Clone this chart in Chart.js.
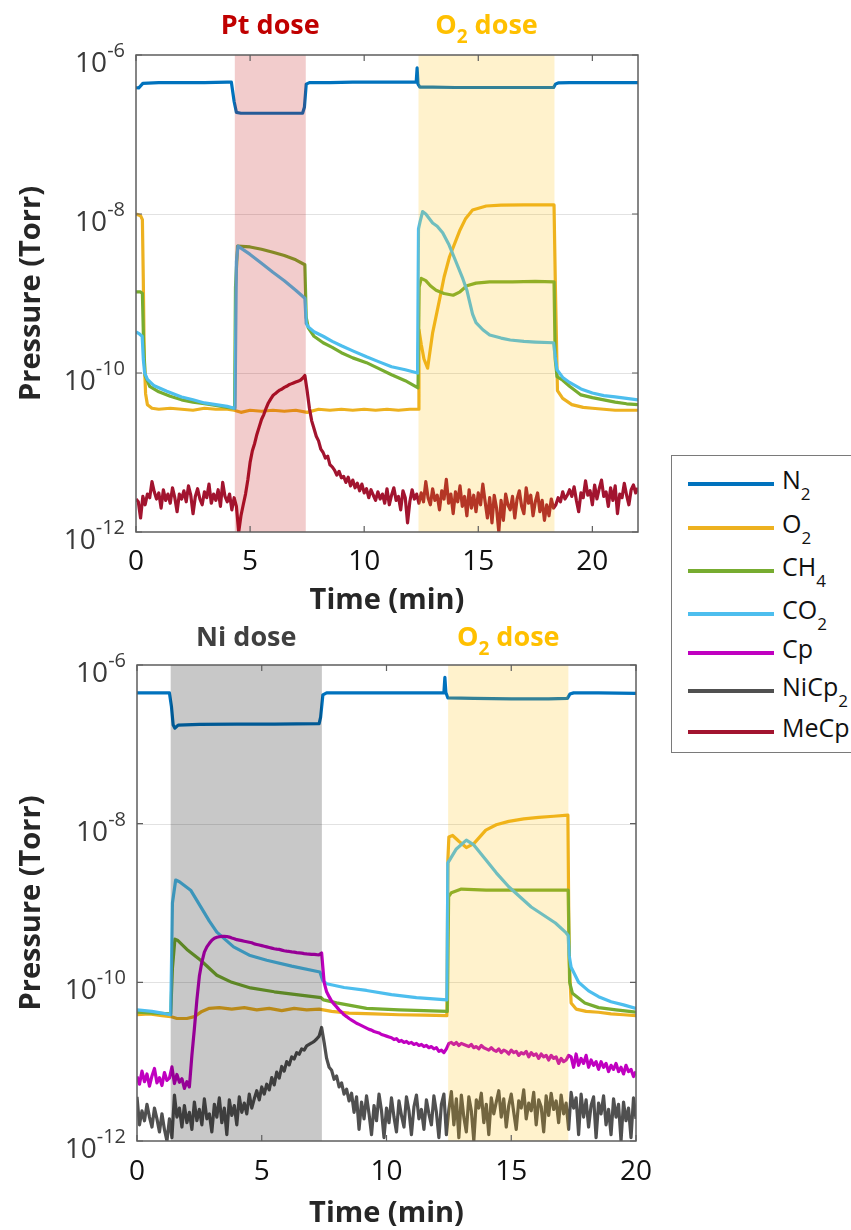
<!DOCTYPE html>
<html>
<head>
<meta charset="utf-8">
<script src="https://cdn.jsdelivr.net/npm/chart.js@4.4.1/dist/chart.umd.min.js"></script>
<style>
  html, body { margin: 0; padding: 0; background: #fff; width: 851px; height: 1230px; overflow: hidden; }
  #c1 { position: absolute; left: 0; top: 0; }
  #c2 { position: absolute; left: 0; top: 615px; }
  #legend { position: absolute; left: 671px; top: 455px; width: 220px; height: 296px;
            border: 1.5px solid #7a7a7a; background: #fff; font-family: 'Open Sans', sans-serif; }
  .lg-line { position: absolute; left: 16px; width: 86px; height: 3.5px; }
  .lg-text { position: absolute; left: 110px; font-size: 25px; line-height: 25px; color: #111; white-space: nowrap; }
  .lg-sub { font-size: 17px; position: relative; top: 11px; }
</style>
</head>
<body>
<canvas id="c1" width="660" height="615"></canvas>
<canvas id="c2" width="660" height="615"></canvas>
<div id="legend"></div>
<script>
// ---------- series names and colours ----------
const seriesNames  = ['N_{2}', 'O_{2}', 'CH_{4}', 'CO_{2}', 'Cp', 'NiCp_{2}', 'MeCp'];
const seriesColors = ['#0072BD', '#EDB120', '#77AC30', '#4DBEEE', '#C000C0', '#505050', '#A2142F'];

// ---------- axis ticks ----------
const xTickValues = [0, 5, 10, 15, 20];
const yTickValues = [1e-6, 1e-8, 1e-10, 1e-12];
const yGridValues = [1e-8, 1e-10];

// ---------- top panel: Pt dose / O2 dose ----------
const topDoseNames = ['Pt dose', 'O_{2} dose'];
const topDoseStart = [4.33, 12.38];
const topDoseEnd   = [7.44, 18.34];

const topN2Time = [0, 0.12, 0.3, 1, 2, 3, 4, 4.18, 4.3, 4.4, 4.6, 5.5, 6.5, 7.3, 7.38, 7.46, 7.6, 8.5, 9.5, 10.5, 11.5, 12.28, 12.32, 12.36, 12.44, 13, 14, 15, 16, 17, 18.3, 18.38, 18.5, 19, 20, 21, 22];
const topN2 = [3.9e-7, 3.85e-7, 4.4e-7, 4.5e-7, 4.5e-7, 4.5e-7, 4.55e-7, 4.55e-7, 2.6e-7, 1.9e-7, 1.85e-7, 1.85e-7, 1.85e-7, 1.85e-7, 2.2e-7, 4.3e-7, 4.5e-7, 4.5e-7, 4.55e-7, 4.55e-7, 4.55e-7, 4.55e-7, 6.9e-7, 4.3e-7, 3.95e-7, 3.95e-7, 3.9e-7, 3.9e-7, 3.9e-7, 3.9e-7, 3.9e-7, 4.3e-7, 4.45e-7, 4.5e-7, 4.5e-7, 4.5e-7, 4.5e-7];

const topO2Time = [0, 0.2, 0.28, 0.32, 0.36, 0.42, 0.5, 0.7, 1, 1.5, 2, 2.5, 3, 3.5, 4, 4.3, 4.6, 5, 5.5, 6, 6.5, 7, 7.5, 8, 8.5, 9, 9.5, 10, 10.5, 11, 11.5, 12, 12.36, 12.4, 12.5, 12.62, 12.78, 13.0, 13.3, 13.5, 13.74, 14.2, 14.45, 14.75, 15.35, 16, 17, 18, 18.32, 18.38, 18.47, 18.7, 19.1, 19.6, 20, 20.5, 21, 21.5, 22];
const topO2 = [1.0e-8, 9.5e-9, 8.5e-9, 1.5e-9, 1.6e-10, 5.5e-11, 4.0e-11, 3.6e-11, 3.5e-11, 3.6e-11, 3.5e-11, 3.4e-11, 3.6e-11, 3.5e-11, 3.5e-11, 3.4e-11, 3.2e-11, 3.4e-11, 3.3e-11, 3.4e-11, 3.3e-11, 3.4e-11, 3.2e-11, 3.5e-11, 3.4e-11, 3.5e-11, 3.4e-11, 3.5e-11, 3.4e-11, 3.5e-11, 3.4e-11, 3.5e-11, 3.5e-11, 3.5e-10, 2.3e-10, 1.5e-10, 1.15e-10, 3.2e-10, 8.3e-10, 1.6e-9, 2.9e-9, 6.3e-9, 8.8e-9, 1.12e-8, 1.26e-8, 1.29e-8, 1.3e-8, 1.3e-8, 1.3e-8, 1.2e-9, 6.0e-11, 4.8e-11, 4.0e-11, 3.7e-11, 3.6e-11, 3.5e-11, 3.4e-11, 3.4e-11, 3.4e-11];

const topCH4Time = [0, 0.2, 0.28, 0.33, 0.4, 0.6, 1, 1.5, 2, 2.5, 3, 3.5, 4, 4.32, 4.36, 4.45, 5, 5.5, 6, 6.5, 7, 7.4, 7.46, 7.55, 7.8, 8.2, 8.6, 9, 9.5, 10.1, 10.6, 11.2, 11.8, 12.36, 12.41, 12.5, 12.7, 12.9, 13.15, 13.5, 13.9, 14.2, 14.5, 14.9, 15.5, 16.5, 17.5, 18.32, 18.37, 18.45, 18.7, 19, 19.5, 20, 20.5, 21, 21.5, 22];
const topCH4 = [1.05e-9, 1.05e-9, 1.0e-9, 2.5e-10, 9.3e-11, 6.8e-11, 5.8e-11, 5.1e-11, 4.6e-11, 4.3e-11, 4.1e-11, 3.9e-11, 3.7e-11, 3.6e-11, 1.2e-9, 3.95e-9, 3.85e-9, 3.6e-9, 3.3e-9, 3.0e-9, 2.65e-9, 2.3e-9, 5.0e-10, 3.7e-10, 2.9e-10, 2.4e-10, 2.1e-10, 1.8e-10, 1.55e-10, 1.35e-10, 1.15e-10, 9.5e-11, 8.0e-11, 6.5e-11, 1.2e-9, 1.55e-9, 1.45e-9, 1.25e-9, 1.1e-9, 1.0e-9, 9.5e-10, 1.05e-9, 1.25e-9, 1.35e-9, 1.4e-9, 1.4e-9, 1.42e-9, 1.4e-9, 1.5e-10, 9.0e-11, 8.1e-11, 6.8e-11, 5.3e-11, 4.9e-11, 4.6e-11, 4.3e-11, 4.1e-11, 4.0e-11];

const topCO2Time = [0, 0.15, 0.27, 0.32, 0.38, 0.5, 0.8, 1.35, 2, 2.5, 3, 3.5, 4, 4.3, 4.34, 4.4, 4.47, 5, 5.5, 6, 6.5, 7, 7.4, 7.46, 7.55, 7.8, 8.2, 8.6, 9, 9.5, 10.1, 10.6, 11.2, 11.8, 12.34, 12.38, 12.45, 12.56, 12.7, 13, 13.2, 13.44, 13.7, 14, 14.3, 14.5, 14.6, 14.75, 14.9, 15.2, 15.5, 16, 16.4, 17, 17.5, 18.3, 18.37, 18.45, 18.7, 19, 19.5, 20, 20.5, 21, 21.5, 22];
const topCO2 = [3.3e-10, 3.1e-10, 2.9e-10, 1.5e-10, 1.0e-10, 8.3e-11, 6.9e-11, 5.9e-11, 5.0e-11, 4.6e-11, 4.2e-11, 4.0e-11, 3.8e-11, 3.6e-11, 3.6e-11, 2.5e-9, 3.95e-9, 3.1e-9, 2.4e-9, 1.85e-9, 1.45e-9, 1.1e-9, 8.7e-10, 4.2e-10, 3.8e-10, 3.3e-10, 2.9e-10, 2.5e-10, 2.2e-10, 1.9e-10, 1.6e-10, 1.4e-10, 1.2e-10, 1.1e-10, 1.0e-10, 6.5e-9, 8.0e-9, 1.07e-8, 1.0e-8, 7.7e-9, 7.0e-9, 5.8e-9, 4.2e-9, 2.6e-9, 1.6e-9, 1.1e-9, 8.3e-10, 5.5e-10, 4.3e-10, 3.5e-10, 3.0e-10, 2.75e-10, 2.6e-10, 2.5e-10, 2.45e-10, 2.4e-10, 1.6e-10, 1.1e-10, 8.8e-11, 7.6e-11, 6.3e-11, 5.6e-11, 5.2e-11, 5.0e-11, 4.8e-11, 4.6e-11];

// MeCp, sampled every 0.1 min from t = 0
const topMeCpStart = 0, topMeCpStep = 0.1;
const topMeCp = [
  2.6e-12, 2.4e-12, 1.5e-12, 2.8e-12, 2.2e-12, 3.0e-12, 2.7e-12, 4.3e-12, 3.2e-12, 2.6e-12,
  3.1e-12, 2.0e-12, 3.4e-12, 2.5e-12, 3.0e-12, 2.3e-12, 3.6e-12, 2.7e-12, 1.8e-12, 3.0e-12,
  2.6e-12, 3.3e-12, 2.4e-12, 3.8e-12, 2.9e-12, 1.7e-12, 2.8e-12, 3.5e-12, 2.6e-12, 2.2e-12,
  3.2e-12, 2.7e-12, 4.0e-12, 2.3e-12, 3.0e-12, 2.5e-12, 3.4e-12, 2.1e-12, 4.2e-12, 2.8e-12,
  2.4e-12, 3.0e-12, 1.9e-12, 2.7e-12, 2.1e-12, 1.0e-12, 1.6e-12, 2.2e-12, 3.0e-12, 4.5e-12,
  7.5e-12, 1.05e-11, 1.3e-11, 1.7e-11, 2.1e-11, 2.6e-11, 3.0e-11, 3.6e-11, 4.2e-11, 4.7e-11,
  5.2e-11, 5.5e-11, 5.8e-11, 6.1e-11, 6.3e-11, 6.6e-11, 6.8e-11, 7.1e-11, 7.3e-11, 7.5e-11,
  7.7e-11, 7.9e-11, 8.1e-11, 8.6e-11, 9.3e-11, 6.0e-11, 3.6e-11, 2.5e-11, 2.0e-11, 1.6e-11,
  1.4e-11, 1.1e-11, 1.0e-11, 8.5e-12, 9.0e-12, 7.0e-12, 6.6e-12, 6.0e-12, 5.2e-12, 5.8e-12,
  4.8e-12, 5.0e-12, 4.2e-12, 4.9e-12, 3.8e-12, 4.5e-12, 3.6e-12, 4.1e-12, 3.3e-12, 4.0e-12,
  3.1e-12, 3.5e-12, 2.7e-12, 3.4e-12, 2.9e-12, 2.5e-12, 3.2e-12, 2.6e-12, 3.0e-12, 2.3e-12,
  3.5e-12, 2.2e-12, 2.9e-12, 3.6e-12, 2.5e-12, 2.8e-12, 1.9e-12, 3.3e-12, 2.7e-12, 1.3e-12,
  2.4e-12, 3.4e-12, 2.6e-12, 3.0e-12, 2.3e-12, 3.1e-12, 2.4e-12, 4.3e-12, 2.7e-12, 2.2e-12,
  3.5e-12, 2.5e-12, 2.9e-12, 1.9e-12, 3.3e-12, 2.6e-12, 4.6e-12, 2.3e-12, 3.0e-12, 1.7e-12,
  3.2e-12, 2.4e-12, 3.8e-12, 2.1e-12, 2.8e-12, 1.6e-12, 3.4e-12, 2.0e-12, 2.9e-12, 1.8e-12,
  3.1e-12, 2.2e-12, 4.0e-12, 2.4e-12, 1.5e-12, 2.7e-12, 1.3e-12, 2.9e-12, 2.0e-12, 1.0e-12,
  2.5e-12, 1.4e-12, 3.0e-12, 2.2e-12, 1.9e-12, 2.8e-12, 1.5e-12, 2.6e-12, 3.3e-12, 2.1e-12,
  1.7e-12, 3.6e-12, 2.3e-12, 2.9e-12, 1.6e-12, 2.4e-12, 3.1e-12, 1.8e-12, 2.5e-12, 1.4e-12,
  2.2e-12, 1.6e-12, 2.6e-12, 2.0e-12, 2.2e-12, 2.7e-12, 2.4e-12, 3.2e-12, 2.6e-12, 2.9e-12,
  3.4e-12, 2.8e-12, 3.7e-12, 2.5e-12, 1.8e-12, 3.1e-12, 2.7e-12, 4.4e-12, 2.9e-12, 3.3e-12,
  2.2e-12, 3.9e-12, 2.6e-12, 3.5e-12, 4.5e-12, 2.8e-12, 3.2e-12, 2.1e-12, 3.6e-12, 2.5e-12,
  3.8e-12, 1.7e-12, 3.0e-12, 2.7e-12, 4.1e-12, 2.9e-12, 2.2e-12, 3.4e-12, 3.9e-12, 3.1e-12,
  3.6e-12
];

// ---------- bottom panel: Ni dose / O2 dose ----------
const botDoseNames = ['Ni dose', 'O_{2} dose'];
const botDoseStart = [1.35, 12.47];
const botDoseEnd   = [7.41, 17.29];

const botN2Time = [0, 1.3, 1.38, 1.45, 1.52, 1.65, 2.5, 4, 5.5, 7.3, 7.36, 7.45, 7.6, 9, 10.5, 12.3, 12.34, 12.38, 12.46, 13.5, 15, 16.5, 17.25, 17.35, 17.5, 18.5, 20];
const botN2 = [4.45e-7, 4.45e-7, 3.0e-7, 1.75e-7, 1.6e-7, 1.75e-7, 1.78e-7, 1.8e-7, 1.8e-7, 1.82e-7, 2.2e-7, 4.2e-7, 4.45e-7, 4.45e-7, 4.45e-7, 4.45e-7, 7.0e-7, 4.5e-7, 3.85e-7, 3.8e-7, 3.75e-7, 3.75e-7, 3.8e-7, 4.3e-7, 4.45e-7, 4.45e-7, 4.4e-7];

const botO2Time = [0, 0.5, 1, 1.35, 1.6, 2, 2.3, 2.6, 2.9, 3.3, 3.8, 4.3, 4.8, 5.3, 5.8, 6.3, 6.8, 7.3, 7.8, 8.5, 9.5, 10.5, 11.5, 12.42, 12.46, 12.5, 12.65, 12.9, 13.2, 13.5, 13.98, 14.4, 14.9, 15.5, 16.1, 16.7, 17.27, 17.32, 17.4, 17.6, 18, 18.5, 19, 19.5, 20];
const botO2 = [3.9e-11, 4.0e-11, 3.8e-11, 3.7e-11, 3.5e-11, 3.5e-11, 3.7e-11, 4.3e-11, 4.7e-11, 4.8e-11, 4.6e-11, 4.8e-11, 4.5e-11, 4.7e-11, 4.4e-11, 4.7e-11, 4.5e-11, 4.6e-11, 4.3e-11, 4.1e-11, 4.0e-11, 3.9e-11, 3.85e-11, 3.8e-11, 3.5e-9, 6.8e-9, 7.1e-9, 6.0e-9, 5.0e-9, 5.6e-9, 8.3e-9, 9.7e-9, 1.07e-8, 1.15e-8, 1.2e-8, 1.24e-8, 1.28e-8, 2.0e-10, 5.5e-11, 4.6e-11, 4.3e-11, 4.2e-11, 4.0e-11, 3.9e-11, 3.8e-11];

const botCH4Time = [0, 0.7, 1.35, 1.42, 1.52, 1.62, 2.0, 2.55, 3.2, 3.8, 4.55, 5.5, 6.55, 7.38, 7.48, 8.0, 9.2, 10.5, 11.5, 12.44, 12.49, 12.6, 13.0, 14, 15, 16, 17.28, 17.34, 17.45, 17.95, 18.5, 19.2, 20];
const botCH4 = [4.2e-11, 4.1e-11, 4.0e-11, 1.5e-10, 3.5e-10, 3.4e-10, 2.6e-10, 1.9e-10, 1.23e-10, 1.0e-10, 8.5e-11, 7.6e-11, 6.9e-11, 6.4e-11, 6.0e-11, 5.5e-11, 4.7e-11, 4.5e-11, 4.4e-11, 4.3e-11, 1.2e-9, 1.35e-9, 1.5e-9, 1.45e-9, 1.45e-9, 1.45e-9, 1.45e-9, 1.0e-10, 7.3e-11, 5.5e-11, 4.8e-11, 4.5e-11, 4.2e-11];

const botCO2Time = [0, 0.6, 1.0, 1.35, 1.42, 1.55, 1.7, 2.15, 2.55, 2.9, 3.2, 3.87, 4.5, 5.2, 6.2, 7.33, 7.45, 7.6, 8.3, 9.2, 10.2, 11.2, 12.42, 12.46, 12.8, 13.2, 13.5, 13.98, 14.4, 14.9, 15.8, 16.77, 17.17, 17.28, 17.32, 17.4, 17.7, 18.1, 18.5, 19, 19.5, 20];
const botCO2 = [4.5e-11, 4.3e-11, 4.1e-11, 3.9e-11, 1.0e-9, 1.95e-9, 1.85e-9, 1.45e-9, 9.0e-10, 5.9e-10, 4.3e-10, 2.8e-10, 2.2e-10, 1.9e-10, 1.6e-10, 1.35e-10, 1.05e-10, 9.6e-11, 8.6e-11, 7.9e-11, 7.0e-11, 6.4e-11, 6.0e-11, 3.2e-9, 4.8e-9, 6.2e-9, 5.4e-9, 3.5e-9, 2.4e-9, 1.6e-9, 8.9e-10, 5.6e-10, 4.3e-10, 3.9e-10, 2.2e-10, 1.55e-10, 1.0e-10, 7.8e-11, 6.6e-11, 5.7e-11, 5.2e-11, 4.7e-11];

// Cp and NiCp2, sampled every 0.1 min from t = 0
const botSampleStart = 0, botSampleStep = 0.1;
const botCp = [
  6.5e-12, 5.2e-12, 7.6e-12, 5.6e-12, 7.0e-12, 4.9e-12, 6.6e-12, 8.2e-12, 5.4e-12, 6.3e-12,
  5.0e-12, 7.3e-12, 5.8e-12, 6.2e-12, 8.6e-12, 5.3e-12, 6.9e-12, 5.5e-12, 6.1e-12, 4.6e-12,
  5.6e-12, 4.8e-12, 1.2e-11, 2.6e-11, 6.0e-11, 1.2e-10, 1.8e-10, 2.4e-10, 2.8e-10, 3.1e-10,
  3.4e-10, 3.6e-10, 3.7e-10, 3.75e-10, 3.8e-10, 3.8e-10, 3.78e-10, 3.72e-10, 3.62e-10, 3.55e-10,
  3.45e-10, 3.4e-10, 3.35e-10, 3.3e-10, 3.25e-10, 3.2e-10, 3.15e-10, 3.05e-10, 3.0e-10, 2.95e-10,
  2.9e-10, 2.85e-10, 2.8e-10, 2.75e-10, 2.7e-10, 2.65e-10, 2.62e-10, 2.6e-10, 2.55e-10, 2.5e-10,
  2.47e-10, 2.45e-10, 2.42e-10, 2.4e-10, 2.37e-10, 2.35e-10, 2.33e-10, 2.3e-10, 2.28e-10, 2.27e-10,
  2.25e-10, 2.25e-10, 2.23e-10, 2.22e-10, 2.35e-10, 1.0e-10, 7.6e-11, 6.6e-11, 5.8e-11, 5.3e-11,
  4.9e-11, 4.5e-11, 4.2e-11, 3.9e-11, 3.7e-11, 3.5e-11, 3.35e-11, 3.2e-11, 3.05e-11, 2.95e-11,
  2.85e-11, 2.75e-11, 2.65e-11, 2.55e-11, 2.5e-11, 2.4e-11, 2.35e-11, 2.3e-11, 2.2e-11, 2.15e-11,
  2.1e-11, 2.05e-11, 2.0e-11, 1.9e-11, 1.95e-11, 1.8e-11, 1.85e-11, 1.75e-11, 1.8e-11, 1.7e-11,
  1.75e-11, 1.65e-11, 1.7e-11, 1.6e-11, 1.65e-11, 1.55e-11, 1.6e-11, 1.5e-11, 1.55e-11, 1.45e-11,
  1.5e-11, 1.35e-11, 1.4e-11, 1.3e-11, 1.45e-11, 1.7e-11, 1.75e-11, 1.65e-11, 1.75e-11, 1.6e-11,
  1.7e-11, 1.65e-11, 1.6e-11, 1.55e-11, 1.65e-11, 1.5e-11, 1.55e-11, 1.45e-11, 1.6e-11, 1.5e-11,
  1.45e-11, 1.4e-11, 1.5e-11, 1.4e-11, 1.35e-11, 1.45e-11, 1.3e-11, 1.4e-11, 1.35e-11, 1.25e-11,
  1.4e-11, 1.3e-11, 1.35e-11, 1.2e-11, 1.3e-11, 1.25e-11, 1.35e-11, 1.15e-11, 1.3e-11, 1.2e-11,
  1.25e-11, 1.1e-11, 1.25e-11, 1.15e-11, 1.2e-11, 1.05e-11, 1.2e-11, 1.1e-11, 1.15e-11, 9.5e-12,
  1.1e-11, 1.0e-11, 1.05e-11, 1.2e-11, 1.15e-11, 8.5e-12, 1.25e-11, 9.0e-12, 1.1e-11, 9.5e-12,
  1.2e-11, 8.5e-12, 1.05e-11, 9.0e-12, 1.0e-11, 8.0e-12, 1.0e-11, 8.5e-12, 9.5e-12, 7.5e-12,
  9.0e-12, 8.0e-12, 9.5e-12, 7.5e-12, 8.5e-12, 7.0e-12, 9.0e-12, 7.5e-12, 8.0e-12, 6.5e-12,
  7.5e-12
];
const botNiCp2 = [
  3.6e-12, 1.6e-12, 2.4e-12, 1.8e-12, 2.9e-12, 2.0e-12, 1.5e-12, 2.6e-12, 1.9e-12, 1.3e-12,
  2.2e-12, 1.4e-12, 1.0e-12, 1.9e-12, 1.1e-12, 3.8e-12, 2.0e-12, 2.6e-12, 1.5e-12, 2.8e-12,
  1.7e-12, 2.3e-12, 1.4e-12, 3.1e-12, 1.8e-12, 2.5e-12, 1.6e-12, 3.4e-12, 1.9e-12, 2.2e-12,
  1.3e-12, 2.9e-12, 2.0e-12, 3.5e-12, 1.7e-12, 2.6e-12, 1.2e-12, 3.3e-12, 2.1e-12, 2.8e-12,
  1.6e-12, 3.6e-12, 2.3e-12, 3.0e-12, 2.2e-12, 3.9e-12, 2.6e-12, 3.4e-12, 4.3e-12, 3.3e-12,
  4.8e-12, 3.9e-12, 5.2e-12, 4.4e-12, 6.3e-12, 5.1e-12, 7.4e-12, 6.2e-12, 8.7e-12, 7.6e-12,
  1.0e-11, 9.1e-12, 1.15e-11, 1.08e-11, 1.3e-11, 1.24e-11, 1.45e-11, 1.4e-11, 1.58e-11, 1.65e-11,
  1.72e-11, 1.8e-11, 1.93e-11, 2.1e-11, 2.7e-11, 1.75e-11, 1.1e-11, 8.5e-12, 7.8e-12, 6.0e-12,
  6.6e-12, 4.8e-12, 5.4e-12, 3.9e-12, 4.5e-12, 3.2e-12, 4.0e-12, 2.3e-12, 3.6e-12, 1.4e-12,
  3.1e-12, 1.9e-12, 3.7e-12, 2.2e-12, 1.2e-12, 2.8e-12, 1.8e-12, 3.9e-12, 2.4e-12, 1.1e-12,
  2.6e-12, 1.7e-12, 3.5e-12, 2.0e-12, 1.3e-12, 3.2e-12, 2.1e-12, 1.5e-12, 3.6e-12, 2.4e-12,
  1.2e-12, 2.7e-12, 3.8e-12, 1.9e-12, 2.5e-12, 1.4e-12, 3.3e-12, 2.2e-12, 1.6e-12, 3.7e-12,
  2.3e-12, 1.1e-12, 2.9e-12, 3.9e-12, 1.2e-12, 2.5e-12, 4.2e-12, 1.6e-12, 3.4e-12, 1.1e-12,
  3.8e-12, 2.0e-12, 1.3e-12, 3.6e-12, 2.4e-12, 1.0e-12, 3.3e-12, 2.6e-12, 4.0e-12, 1.7e-12,
  2.9e-12, 1.2e-12, 3.5e-12, 2.2e-12, 3.1e-12, 4.3e-12, 2.0e-12, 3.4e-12, 1.5e-12, 2.8e-12,
  3.9e-12, 2.3e-12, 1.4e-12, 3.2e-12, 2.6e-12, 4.4e-12, 1.9e-12, 3.0e-12, 2.4e-12, 4.1e-12,
  1.6e-12, 3.3e-12, 2.7e-12, 1.3e-12, 3.7e-12, 2.1e-12, 4.0e-12, 2.5e-12, 3.2e-12, 1.7e-12,
  3.8e-12, 2.2e-12, 3.0e-12, 1.4e-12, 4.1e-12, 2.6e-12, 3.5e-12, 1.2e-12, 3.9e-12, 2.0e-12,
  3.3e-12, 1.5e-12, 2.8e-12, 3.6e-12, 1.1e-12, 3.0e-12, 2.2e-12, 3.7e-12, 1.6e-12, 2.5e-12,
  1.2e-12, 3.4e-12, 2.0e-12, 2.9e-12, 1.0e-12, 3.1e-12, 1.8e-12, 2.6e-12, 1.1e-12, 3.5e-12,
  1.9e-12
];

// ---------- helpers ----------
const FONT = "'Open Sans', 'Noto Sans', sans-serif";

function pairs(times, values) {
  return values.map((v, i) => ({ x: times[i], y: v }));
}
function sampled(start, step, values) {
  return values.map((v, i) => ({ x: +(start + i * step).toFixed(3), y: v }));
}

// Split "O_{2} dose" / "10^{-8}" into plain, subscript and superscript runs
function richSegments(s) {
  const out = [];
  const re = /([_^])\{([^}]*)\}/g;
  let last = 0, m;
  while ((m = re.exec(s))) {
    if (m.index > last) out.push({ text: s.slice(last, m.index), mode: 'n' });
    out.push({ text: m[2], mode: m[1] === '_' ? 'sub' : 'sup' });
    last = re.lastIndex;
  }
  if (last < s.length) out.push({ text: s.slice(last), mode: 'n' });
  return out;
}

function drawRich(ctx, s, x, y, o) {
  const segs = richSegments(s);
  const fontFor = seg => `${o.weight || 'normal'} ${seg.mode === 'n' ? o.size : Math.round(o.size * o.scriptScale)}px ${FONT}`;
  let total = 0;
  segs.forEach(seg => { ctx.font = fontFor(seg); seg.w = ctx.measureText(seg.text).width; total += seg.w; });
  let cx = o.align === 'center' ? x - total / 2 : o.align === 'right' ? x - total : x;
  ctx.fillStyle = o.color;
  ctx.textAlign = 'left';
  ctx.textBaseline = 'alphabetic';
  segs.forEach(seg => {
    ctx.font = fontFor(seg);
    const dy = seg.mode === 'sub' ? o.subShift : seg.mode === 'sup' ? -o.supShift : 0;
    ctx.fillText(seg.text, cx, y + dy);
    cx += seg.w;
  });
}

// Frame, inward ticks, grid, dose bands and all panel text
const panelDecor = {
  id: 'panelDecor',
  beforeDatasetsDraw(chart, args, o) {
    const { ctx, chartArea: a, scales: { y } } = chart;
    ctx.save();
    ctx.strokeStyle = '#e2e2e2';
    ctx.lineWidth = 1.2;
    yGridValues.forEach(v => {
      const py = Math.round(y.getPixelForValue(v)) + 0.5;
      ctx.beginPath(); ctx.moveTo(a.left, py); ctx.lineTo(a.right, py); ctx.stroke();
    });
    ctx.restore();
  },
  afterDatasetsDraw(chart, args, o) {
    const { ctx, chartArea: a, scales: { x, y } } = chart;
    ctx.save();
    // translucent dose bands laid over the traces
    o.doseStart.forEach((t0, i) => {
      const x0 = x.getPixelForValue(t0), x1 = x.getPixelForValue(o.doseEnd[i]);
      ctx.fillStyle = o.doseFill[i];
      ctx.fillRect(x0, a.top, x1 - x0, a.bottom - a.top);
    });
    // box
    ctx.strokeStyle = '#5e5e5e';
    ctx.lineWidth = 1.5;
    ctx.strokeRect(a.left, a.top, a.right - a.left, a.bottom - a.top);
    // inward tick marks
    ctx.lineWidth = 1.2;
    xTickValues.forEach(v => {
      const px = x.getPixelForValue(v);
      ctx.beginPath();
      ctx.moveTo(px, a.bottom); ctx.lineTo(px, a.bottom - 6);
      ctx.moveTo(px, a.top); ctx.lineTo(px, a.top + 6);
      ctx.stroke();
    });
    yTickValues.forEach(v => {
      const py = y.getPixelForValue(v);
      ctx.beginPath();
      ctx.moveTo(a.left, py); ctx.lineTo(a.left + 6, py);
      ctx.moveTo(a.right, py); ctx.lineTo(a.right - 6, py);
      ctx.stroke();
    });
    // x tick labels
    ctx.font = `28px ${FONT}`;
    ctx.fillStyle = '#111';
    ctx.textAlign = 'center';
    ctx.textBaseline = 'alphabetic';
    xTickValues.forEach(v => ctx.fillText(String(v), x.getPixelForValue(v), a.bottom + o.xTickDrop));
    // y tick labels 10^n
    yTickValues.forEach(v => {
      const py = y.getPixelForValue(v);
      const label = '10^{' + Math.round(Math.log10(v)) + '}';
      drawRich(ctx, label, a.left - 11, py + 17, { size: 28, color: '#3a3a3a', align: 'right', scriptScale: 0.72, supShift: 15, subShift: 0 });
    });
    // axis titles
    ctx.font = `bold 29px ${FONT}`;
    ctx.fillStyle = '#262626';
    ctx.textAlign = 'center';
    ctx.fillText('Time (min)', (a.left + a.right) / 2, a.bottom + o.xTitleDrop);
    ctx.save();
    ctx.translate(40, (a.top + a.bottom) / 2);
    ctx.rotate(-Math.PI / 2);
    ctx.fillText('Pressure (Torr)', 0, 0);
    ctx.restore();
    // dose titles centred over their bands
    o.doseNames.forEach((name, i) => {
      const cx = (x.getPixelForValue(o.doseStart[i]) + x.getPixelForValue(o.doseEnd[i])) / 2;
      drawRich(ctx, name, cx, a.top - o.titleRise, { size: 27, weight: 'bold', color: o.doseText[i], align: 'center', scriptScale: 0.72, subShift: 9, supShift: 0 });
    });
    ctx.restore();
  }
};

function makePanel(canvas, series, layout, decor) {
  const n = series.length;
  return new Chart(canvas, {
    type: 'line',
    data: {
      datasets: series.map((s, i) => ({
        label: s.name,
        data: s.data,
        borderColor: s.color,
        borderWidth: 3.2,
        borderJoinStyle: 'round',
        pointRadius: 0,
        tension: 0,
        fill: false,
        order: n - i
      }))
    },
    options: {
      responsive: false,
      animation: false,
      events: [],
      layout: { padding: { top: layout.top, right: layout.right, left: 0, bottom: 0 } },
      plugins: { legend: { display: false }, tooltip: { enabled: false }, panelDecor: decor },
      scales: {
        x: { type: 'linear', min: 0, max: layout.xMax, ticks: { display: false }, grid: { display: false }, border: { display: false },
             afterFit: s => { s.height = layout.xHeight; } },
        y: { type: 'logarithmic', min: 1e-12, max: 1e-6, ticks: { display: false }, grid: { display: false }, border: { display: false },
             afterFit: s => { s.width = layout.yWidth; } }
      }
    },
    plugins: [panelDecor]
  });
}

// ---------- top panel ----------
makePanel(document.getElementById('c1'), [
  { name: 'N2',   color: seriesColors[0], data: pairs(topN2Time, topN2) },
  { name: 'O2',   color: seriesColors[1], data: pairs(topO2Time, topO2) },
  { name: 'CH4',  color: seriesColors[2], data: pairs(topCH4Time, topCH4) },
  { name: 'CO2',  color: seriesColors[3], data: pairs(topCO2Time, topCO2) },
  { name: 'MeCp', color: seriesColors[6], data: sampled(topMeCpStart, topMeCpStep, topMeCp) }
], { top: 55, right: 22, xHeight: 83, yWidth: 136, xMax: 22 }, {
  doseNames: topDoseNames, doseStart: topDoseStart, doseEnd: topDoseEnd,
  doseFill: ['rgba(192,0,0,0.2)', 'rgba(255,192,0,0.2)'],
  doseText: ['#C00000', '#FFC000'],
  xTickDrop: 38, xTitleDrop: 77, titleRise: 21
});

// ---------- bottom panel ----------
makePanel(document.getElementById('c2'), [
  { name: 'N2',    color: seriesColors[0], data: pairs(botN2Time, botN2) },
  { name: 'O2',    color: seriesColors[1], data: pairs(botO2Time, botO2) },
  { name: 'CH4',   color: seriesColors[2], data: pairs(botCH4Time, botCH4) },
  { name: 'CO2',   color: seriesColors[3], data: pairs(botCO2Time, botCO2) },
  { name: 'Cp',    color: seriesColors[4], data: sampled(botSampleStart, botSampleStep, botCp) },
  { name: 'NiCp2', color: seriesColors[5], data: sampled(botSampleStart, botSampleStep, botNiCp2) }
], { top: 50, right: 24, xHeight: 89, yWidth: 137, xMax: 20 }, {
  doseNames: botDoseNames, doseStart: botDoseStart, doseEnd: botDoseEnd,
  doseFill: ['rgba(0,0,0,0.215)', 'rgba(255,192,0,0.2)'],
  doseText: ['#404040', '#FFC000'],
  xTickDrop: 39, xTitleDrop: 81, titleRise: 19
});

// ---------- shared legend ----------
const legendRows = [28, 72, 115, 158, 197, 235, 276];
const legend = document.getElementById('legend');
seriesNames.forEach((name, i) => {
  const line = document.createElement('div');
  line.className = 'lg-line';
  line.style.top = (legendRows[i] - 1.75) + 'px';
  line.style.background = seriesColors[i];
  legend.appendChild(line);
  const text = document.createElement('div');
  text.className = 'lg-text';
  text.style.top = (legendRows[i] - 17) + 'px';
  richSegments(name).forEach(seg => {
    const span = document.createElement('span');
    span.textContent = seg.text;
    if (seg.mode === 'sub') span.className = 'lg-sub';
    text.appendChild(span);
  });
  legend.appendChild(text);
});
</script>
</body>
</html>
